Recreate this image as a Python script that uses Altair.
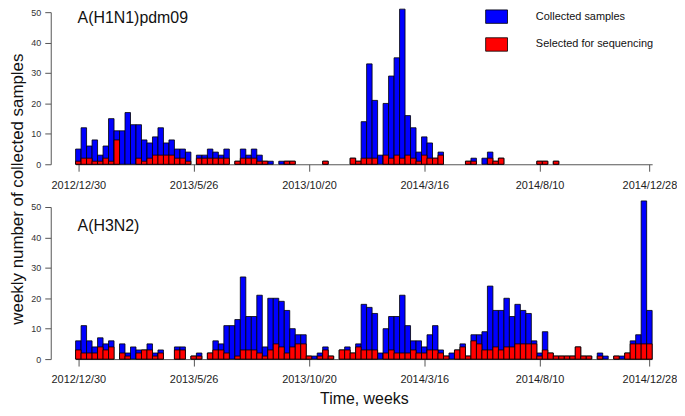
import altair as alt
import pandas as pd

TICK_WEEKS = [0, 21, 42, 63, 84, 104]
TICK_LABELS = ["2012/12/30", "2013/5/26", "2013/10/20", "2014/3/16", "2014/8/10", "2014/12/28"]
Y_TICKS = [0, 10, 20, 30, 40, 50]
SERIES = ["Collected samples", "Selected for sequencing"]
COLORS = ["#0000ff", "#ff0000"]

H1N1_COLLECTED = [5, 12, 6, 8, 3, 6, 15, 11, 11, 17,
                  13, 13, 8, 7, 9, 12, 7, 8, 5, 5,
                  4, 0, 3, 3, 5, 4, 3, 5, 0, 1,
                  5, 3, 5, 3, 1, 1, 0, 1, 1, 1,
                  0, 0, 0, 0, 0, 1, 0, 0, 0, 0,
                  2, 1, 14, 33, 21, 3, 20, 29, 35, 51,
                  16, 12, 4, 9, 7, 2, 4, 0, 0, 0,
                  0, 1, 2, 0, 2, 4, 1, 2, 0, 0,
                  0, 0, 0, 0, 1, 1, 0, 1, 0, 0,
                  0, 0, 0, 0, 0, 0, 0, 0, 0, 0,
                  0, 0, 0, 0, 0]
H1N1_SELECTED = [1, 2, 2, 1, 1, 2, 1, 8, 0, 0,
                 0, 2, 1, 2, 3, 3, 3, 3, 2, 2,
                 1, 0, 2, 2, 2, 2, 2, 2, 0, 1,
                 2, 2, 2, 1, 1, 0, 0, 0, 1, 1,
                 0, 0, 0, 0, 0, 1, 0, 0, 0, 0,
                 2, 1, 2, 2, 2, 0, 3, 2, 3, 2,
                 3, 2, 1, 3, 2, 2, 3, 0, 0, 0,
                 0, 1, 1, 0, 0, 2, 1, 2, 0, 0,
                 0, 0, 0, 0, 1, 1, 0, 1, 0, 0,
                 0, 0, 0, 0, 0, 0, 0, 0, 0, 0,
                 0, 0, 0, 0, 0]
H3N2_COLLECTED = [6, 11, 6, 4, 7, 5, 6, 0, 5, 2,
                  4, 3, 3, 5, 2, 3, 0, 0, 4, 4,
                  0, 1, 2, 0, 2, 6, 5, 11, 11, 13,
                  27, 14, 14, 21, 4, 20, 20, 19, 16, 10,
                  8, 8, 1, 1, 2, 4, 1, 0, 3, 4,
                  2, 5, 18, 17, 15, 2, 10, 14, 14, 21,
                  11, 6, 6, 4, 8, 11, 3, 1, 2, 3,
                  5, 1, 8, 8, 9, 24, 16, 16, 20, 14,
                  18, 16, 15, 6, 2, 9, 2, 1, 1, 1,
                  1, 4, 1, 1, 0, 2, 1, 0, 1, 1,
                  2, 6, 8, 52, 16]
H3N2_SELECTED = [3, 2, 2, 2, 4, 3, 4, 0, 2, 1,
                 0, 2, 3, 3, 1, 2, 0, 0, 3, 3,
                 0, 1, 1, 0, 2, 3, 3, 2, 0, 1,
                 3, 3, 3, 2, 1, 3, 5, 4, 2, 4,
                 5, 5, 1, 0, 1, 3, 1, 0, 3, 3,
                 2, 4, 3, 3, 3, 0, 2, 3, 2, 2,
                 2, 3, 2, 2, 3, 3, 2, 1, 0, 3,
                 4, 1, 6, 5, 3, 3, 4, 3, 4, 4,
                 5, 5, 5, 5, 1, 3, 2, 1, 1, 1,
                 1, 4, 1, 1, 0, 1, 0, 0, 1, 0,
                 2, 5, 5, 5, 5]

FONT = "Liberation Sans"


def long_df(collected, selected):
    rows = []
    for series, values in zip(SERIES, [collected, selected]):
        for w, n in enumerate(values):
            rows.append({"week": w, "start": w - 0.5, "end": w + 0.5,
                         "series": series, "n": n, "zero": 0})
    return pd.DataFrame(rows)


label_expr = ("[" + ",".join("'%s'" % t for t in TICK_LABELS) + "][indexof(["
              + ",".join(str(t) for t in TICK_WEEKS) + "], datum.value)]")


def panel(df, name, title_offset, y_title=None, x_title=None, legend=False):
    x_axis_kw = dict(values=TICK_WEEKS, labelExpr=label_expr, labelFlush=False,
                     labelOverlap=False, tickSize=7, labelPadding=8,
                     labelFontSize=11, grid=False, domainColor="#555",
                     tickColor="#555", labelColor="#222")
    if x_title:
        x_axis_kw.update(title=x_title, titleFontSize=16, titleFontWeight="normal",
                         titlePadding=6, titleColor="#111")
    else:
        x_axis_kw.update(title="")
    y_axis_kw = dict(values=Y_TICKS, offset=25, tickSize=6, labelPadding=4,
                     labelFontSize=9, grid=False, domainColor="#555",
                     tickColor="#555", labelColor="#333")
    if y_title:
        y_axis_kw.update(title=y_title, titleFontSize=17, titleFontWeight="normal",
                         titleAngle=270, titleAlign="center",
                         titleBaseline="alphabetic", titleX=-28, titleY=177.5,
                         titleColor="#111")
    else:
        y_axis_kw.update(title="")

    x = alt.X("start:Q",
              scale=alt.Scale(domain=[-0.5, 104.5], nice=False, zero=False, padding=0),
              axis=alt.Axis(**x_axis_kw))
    y = alt.Y("n:Q", stack=None, scale=alt.Scale(domain=[0, 50], nice=False),
              axis=alt.Axis(**y_axis_kw))
    if legend:
        leg = alt.Legend(title=None, orient="none", legendX=412, legendY=-7,
                         direction="vertical", padding=0,
                         symbolType="M-1,-0.614L1,-0.614L1,0.614L-1,0.614Z",
                         symbolSize=484, symbolStrokeColor="black",
                         symbolStrokeWidth=0.8, labelFontSize=11,
                         labelOffset=28, rowPadding=8, labelColor="#111")
        color = alt.Color("series:N", scale=alt.Scale(domain=SERIES, range=COLORS),
                          legend=leg)
    else:
        color = alt.Color("series:N", scale=alt.Scale(domain=SERIES, range=COLORS),
                          legend=None)

    base = alt.Chart(df).transform_filter("datum.n > 0")
    layers = []
    for s in SERIES:
        layers.append(
            base.transform_filter(alt.datum.series == s)
            .mark_bar(stroke="black", strokeWidth=0.8, orient="vertical")
            .encode(x=x, x2="end:Q", y=y, y2="zero:Q", color=color)
        )
    return alt.layer(*layers).properties(
        width=580, height=153,
        title=alt.TitleParams(name, anchor="start", frame="group", fontSize=16,
                              fontWeight="normal", baseline="middle",
                              offset=title_offset, dx=2, color="#111"),
    )


top = panel(long_df(H1N1_COLLECTED, H1N1_SELECTED), "A(H1N1)pdm09", -28.5,
            y_title="weekly number of collected samples", legend=True)
bottom = panel(long_df(H3N2_COLLECTED, H3N2_SELECTED), "A(H3N2)", -42,
               x_title="Time, weeks")

chart = (
    alt.vconcat(top, bottom, spacing=43, bounds="flush")
    .resolve_scale(color="independent", x="independent", y="independent")
    .resolve_legend(color="independent")
    .properties(padding={"left": 0, "top": -4, "right": 0, "bottom": -1})
    .configure(font=FONT)
    .configure_view(stroke=None)
)

chart.save("out.html", embed_options={"renderer": "svg", "actions": False})
